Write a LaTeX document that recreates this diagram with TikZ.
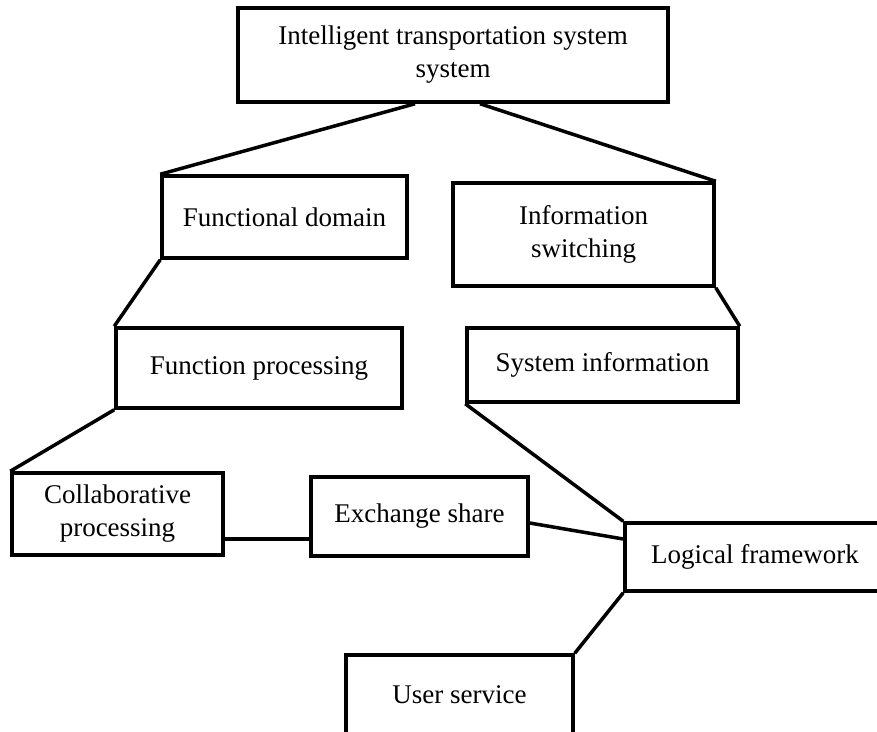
\documentclass[tikz,border=0pt]{standalone}
\usepackage{fontspec}
\setmainfont{Liberation Serif}

\begin{document}
\begin{tikzpicture}[x=1pt, y=-1pt, line width=3.5pt,
    blockbox/.style={draw, rectangle, inner sep=0pt, align=center,
      font=\fontsize{27}{33}\selectfont}]
            \useasboundingbox (0, 0) rectangle (877, 731);
            \clip (0, 0) rectangle (877, 731);
            % boxes
            \node[blockbox, minimum width=430, minimum height=94] (its) at (453, 55) {Intelligent transportation system\\system};
            \node[blockbox, minimum width=245, minimum height=82] (fdom) at (284.5, 217) {Functional domain};
            \node[blockbox, minimum width=261, minimum height=103] (iswitch) at (583.5, 234.5) {Information\\switching};
            \node[blockbox, minimum width=286, minimum height=80] (fproc) at (259, 368) {Function processing};
            \node[blockbox, minimum width=271, minimum height=74] (sysinfo) at (602.5, 365) {System information};
            \node[blockbox, minimum width=211, minimum height=82] (collab) at (117.5, 514) {Collaborative\\processing};
            \node[blockbox, minimum width=217, minimum height=79] (xshare) at (419.5, 516.5) {Exchange share};
            \node[blockbox, minimum width=260, minimum height=68] (logic) at (755, 557) {Logical framework};
            \node[blockbox, minimum width=227, minimum height=80] (usrv) at (459.5, 695) {User service};
            % connectors
            \draw ([xshift=-38pt]its.south) -- (fdom.north west);
            \draw ([xshift=27pt]its.south) -- (iswitch.north east);
            \draw (fdom.south west) -- (fproc.north west);
            \draw (iswitch.south east) -- (sysinfo.north east);
            \draw (fproc.south west) -- (collab.north west);
            \draw (sysinfo.south west) -- (logic.north west);
            \draw ([yshift=-25pt]collab.east) -- ([yshift=-22.5pt]xshare.west);
            \draw ([yshift=-6.5pt]xshare.east) -- ([yshift=18pt]logic.west);
            \draw (logic.south west) -- (usrv.north east);
        \end{tikzpicture}
\end{document}
